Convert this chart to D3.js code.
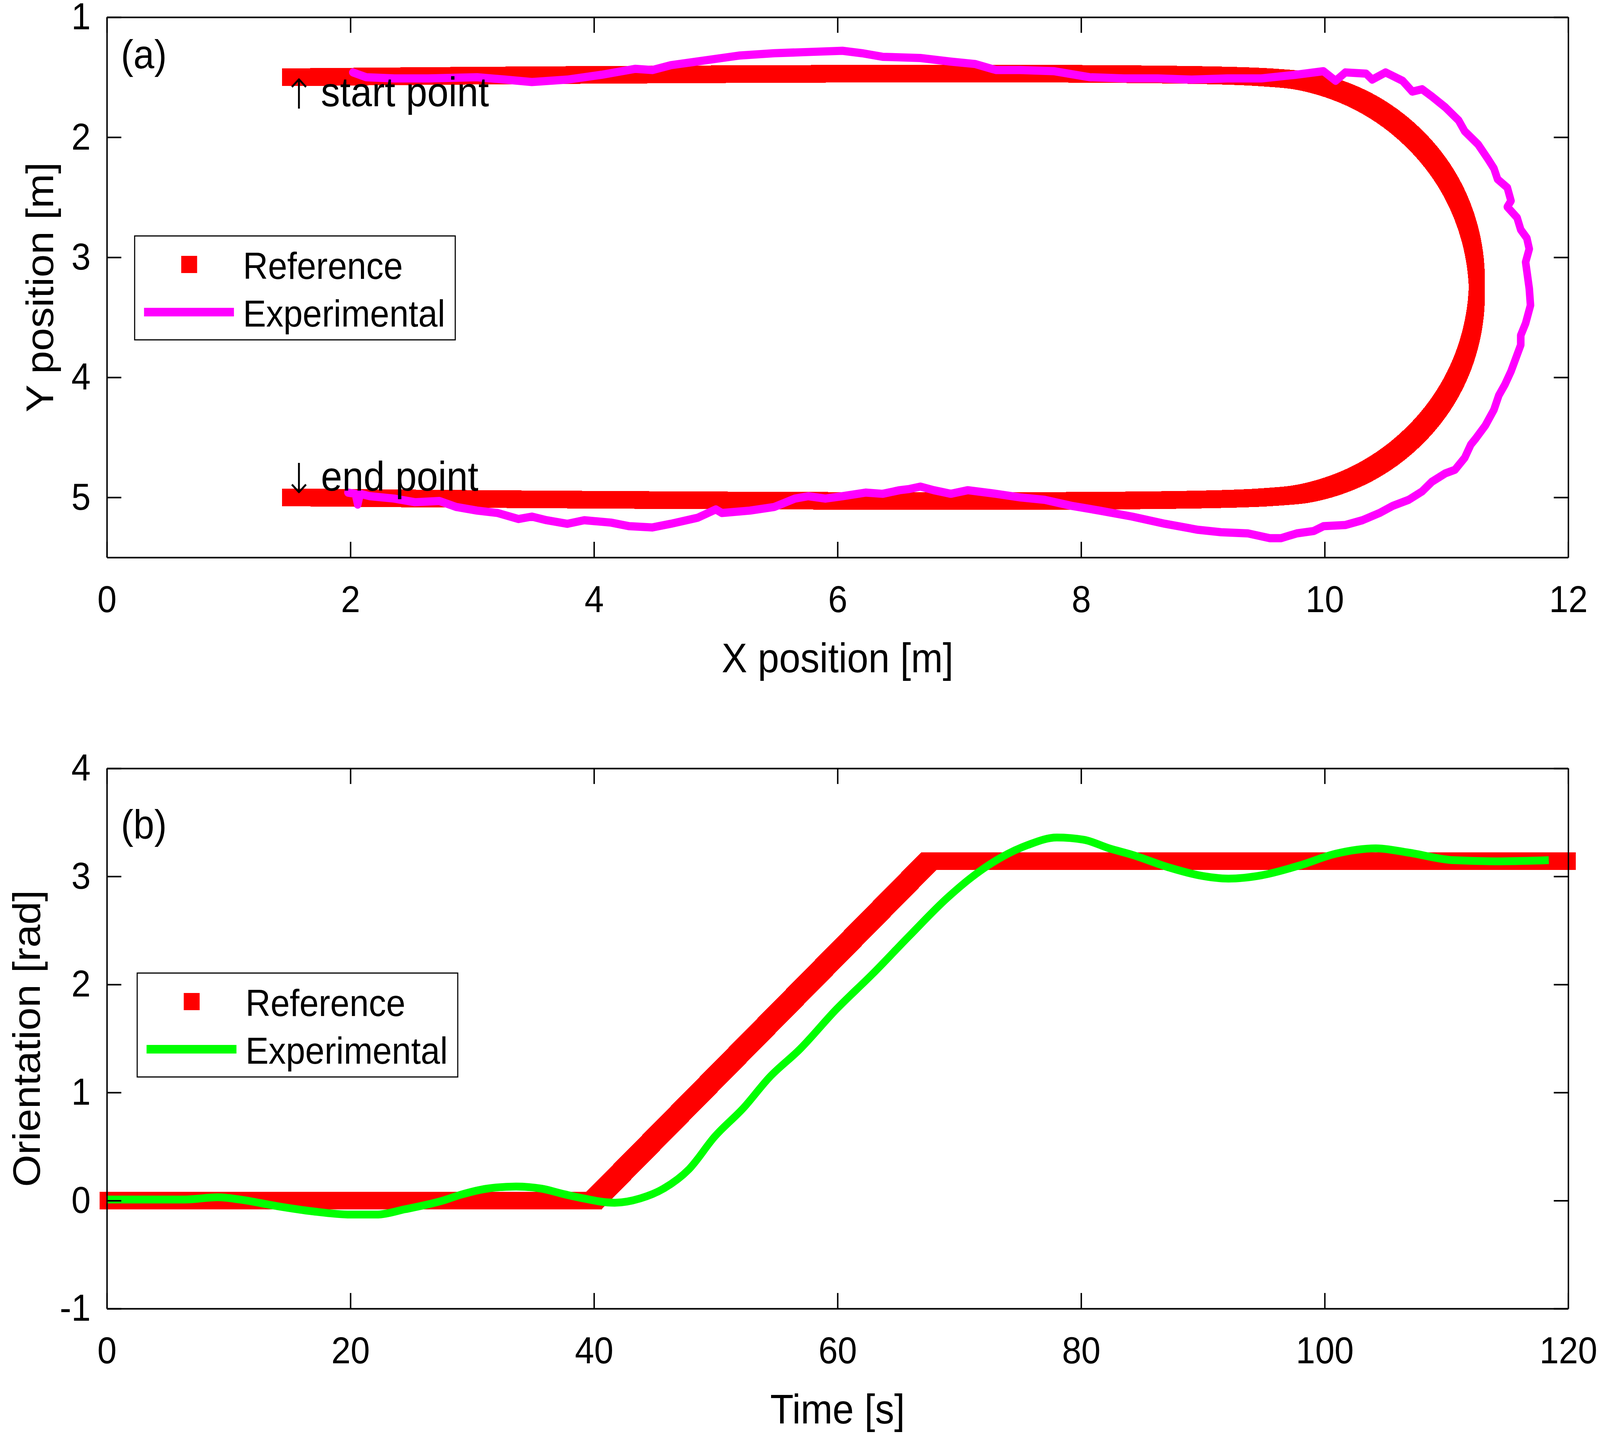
<!DOCTYPE html>
<html>
<head>
<meta charset="utf-8">
<script src="https://cdn.jsdelivr.net/npm/d3@7"></script>
<style>
html, body { margin: 0; padding: 0; background: #fff; overflow: hidden; }
svg { display: block; width: 100vw; height: 100vh; }
svg text { font-family: "Liberation Sans", Arial, Helvetica, sans-serif; fill: #000; }
</style>
</head>
<body>
<svg id="fig" viewBox="0 0 4432 3671" preserveAspectRatio="none"></svg>
<script>
// ---- (a) trajectory in the plane ----
var pathTicksX = [0, 2, 4, 6, 8, 10, 12];
var pathTicksY = [1, 2, 3, 4, 5];

// reference: straight run, half turn, straight run back
var refPathX = [1.5, 9.5, 9.953, 10.375, 10.737, 11.016, 11.19, 11.25, 11.19, 11.016, 10.737, 10.375, 9.953, 9.5, 1.5];
var refPathY = [1.5, 1.5, 1.56, 1.734, 2.013, 2.375, 2.797, 3.25, 3.703, 4.125, 4.487, 4.766, 4.94, 5.0, 5.0];

// measured robot path
var expPathX = [2.02, 2.13, 2.36, 2.64, 3.04, 3.27, 3.49, 3.78, 4.06, 4.34, 4.48, 4.63, 4.91, 5.19, 5.48, 5.76, 6.04, 6.20,
    6.37, 6.68, 6.93, 7.13, 7.30, 7.50, 7.78, 8.07, 8.35, 8.63, 8.91, 9.20, 9.48, 9.76, 9.99, 10.09, 10.17, 10.34, 10.39,
    10.50, 10.64, 10.72, 10.80, 10.88, 10.99, 11.10, 11.15, 11.26, 11.34, 11.39, 11.42, 11.50, 11.53, 11.50, 11.58, 11.61,
    11.66, 11.68, 11.65, 11.68, 11.69, 11.65, 11.61, 11.61, 11.57, 11.53, 11.48, 11.43, 11.39, 11.32, 11.24, 11.20, 11.15,
    11.07, 10.99, 10.88, 10.80, 10.69, 10.56, 10.45, 10.31, 10.17, 9.99, 9.91, 9.77, 9.64, 9.55, 9.37, 9.15, 8.96, 8.69,
    8.42, 8.15, 7.92, 7.70, 7.50, 7.30, 7.07, 6.93, 6.79, 6.68, 6.59, 6.51, 6.37, 6.23, 6.04, 5.90, 5.76, 5.65, 5.48, 5.28,
    5.05, 5.00, 4.85, 4.63, 4.48, 4.29, 4.14, 3.92, 3.78, 3.61, 3.49, 3.38, 3.21, 3.04, 2.87, 2.73, 2.53, 2.36, 2.16, 2.08,
    2.06, 2.04, 1.98];
var expPathY = [1.46, 1.50, 1.51, 1.51, 1.50, 1.52, 1.54, 1.52, 1.48, 1.43, 1.44, 1.40, 1.36, 1.32, 1.30, 1.29, 1.28, 1.30,
    1.33, 1.34, 1.37, 1.39, 1.44, 1.44, 1.45, 1.50, 1.51, 1.51, 1.52, 1.51, 1.51, 1.48, 1.45, 1.53, 1.46, 1.47, 1.52,
    1.46, 1.53, 1.62, 1.60, 1.66, 1.75, 1.86, 1.95, 2.06, 2.18, 2.26, 2.35, 2.42, 2.53, 2.58, 2.67, 2.77,
    2.84, 2.93, 3.04, 3.26, 3.40, 3.55, 3.65, 3.73, 3.84, 3.95, 4.06, 4.15, 4.27, 4.40, 4.51, 4.56, 4.67,
    4.77, 4.80, 4.87, 4.95, 5.02, 5.07, 5.13, 5.19, 5.23, 5.24, 5.28, 5.30, 5.34, 5.34, 5.30, 5.29, 5.27, 5.22,
    5.16, 5.11, 5.07, 5.02, 5.00, 4.97, 4.94, 4.97, 4.94, 4.91, 4.93, 4.94, 4.97, 4.96, 4.99, 5.01, 4.99, 5.01, 5.08, 5.11,
    5.13, 5.10, 5.17, 5.22, 5.25, 5.24, 5.21, 5.19, 5.22, 5.19, 5.16, 5.18, 5.13, 5.11, 5.08, 5.03, 5.04, 5.01, 4.99, 4.97,
    5.06, 4.97, 4.96];

// ---- (b) heading over time ----
var timeTicks = [0, 20, 40, 60, 80, 100, 120];
var angleTicks = [-1, 0, 1, 2, 3, 4];

var refTime = [0, 40, 67.5, 120];
var refAngle = [0, 0, 3.1416, 3.1416];

var expTime = [0, 3.3, 6.4, 9.1, 10.9, 13.9, 16.9, 20.0, 22.1, 24.5, 27.6, 29.1, 31.2, 33.6, 35.7, 37.5, 38.7, 41.7,
    43.8, 45.7, 47.8, 49.9, 52.3, 54.4, 56.9, 59.9, 62.9, 65.9, 69.0, 71.1, 73.5, 75.6, 78.0, 80.2, 82.3, 84.2, 87.3,
    89.7, 92.1, 94.8, 97.9, 100.9, 104.2, 106.9, 110.6, 114.5, 118.4];
var expAngle = [0.01, 0.01, 0.01, 0.03, 0.01, -0.05, -0.10, -0.13, -0.13, -0.08, 0.0, 0.055, 0.11, 0.13, 0.11, 0.06, 0.03, -0.02,
    0.02, 0.11, 0.29, 0.59, 0.86, 1.14, 1.40, 1.77, 2.10, 2.45, 2.80, 3.00, 3.18, 3.29, 3.36, 3.34, 3.26, 3.20, 3.08,
    3.01, 2.98, 3.01, 3.10, 3.21, 3.26, 3.22, 3.15, 3.14, 3.15];

var FONT = '"Liberation Sans", Arial, Helvetica, sans-serif';
var svg = d3.select('#fig');

svg.append('rect').attr('width', 4432).attr('height', 3671).attr('fill', '#fff');

// square markers swept along a thin line, like the thick reference band
svg.append('defs').append('filter')
    .attr('id', 'squareMarker')
    .attr('filterUnits', 'userSpaceOnUse')
    .attr('x', 0).attr('y', 0).attr('width', 4432).attr('height', 3671)
    .append('feMorphology')
    .attr('operator', 'dilate')
    .attr('radius', 21);

var frameA = {left: 296, right: 4344, top: 44, bottom: 1427};
var frameB = {left: 296, right: 4344, top: 1967, bottom: 3350};

function zip(xs, ys) {
    return xs.map(function(x, i) { return [x, ys[i]]; });
}

function drawAxes(f, xScale, yScale, xTicks, yTicks) {
    var g = svg.append('g');
    var parts = [
        g.append('g').attr('transform', 'translate(0,' + f.bottom + ')')
            .call(d3.axisBottom(xScale).tickValues(xTicks).tickSizeInner(-40).tickSizeOuter(0)
                .tickPadding(72).tickFormat(String)),
        g.append('g').attr('transform', 'translate(0,' + f.top + ')')
            .call(d3.axisTop(xScale).tickValues(xTicks).tickSizeInner(-40).tickSizeOuter(0).tickFormat('')),
        g.append('g').attr('transform', 'translate(' + f.left + ',0)')
            .call(d3.axisLeft(yScale).tickValues(yTicks).tickSizeInner(-40).tickSizeOuter(0)
                .tickPadding(45).tickFormat(String)),
        g.append('g').attr('transform', 'translate(' + f.right + ',0)')
            .call(d3.axisRight(yScale).tickValues(yTicks).tickSizeInner(-40).tickSizeOuter(0).tickFormat(''))
    ];
    parts.forEach(function(p) {
        p.attr('font-size', 96).attr('font-family', FONT);
    });
    g.selectAll('.domain, .tick line').attr('stroke', '#000').attr('stroke-width', 4);
    g.selectAll('.tick text').attr('fill', '#000');
}

function drawLegend(box, color, label1, label2) {
    var g = svg.append('g');
    g.append('rect')
        .attr('x', box.x).attr('y', box.y).attr('width', 888).attr('height', 266)
        .attr('fill', '#fff').attr('stroke', '#000').attr('stroke-width', 3);
    g.append('rect')
        .attr('x', box.x + 129).attr('y', box.y + 51).attr('width', 44).attr('height', 44)
        .attr('fill', '#ff0000');
    g.append('line')
        .attr('x1', box.x + 26).attr('x2', box.x + 275)
        .attr('y1', box.y + 195).attr('y2', box.y + 195)
        .attr('stroke', color).attr('stroke-width', 22);
    g.append('text').attr('x', box.x + 300).attr('y', box.y + 110).attr('font-size', 96).text(label1);
    g.append('text').attr('x', box.x + 300).attr('y', box.y + 232).attr('font-size', 96).text(label2);
}

// arrow glyph + label, the way the figure annotates the path ends
function note(arrow, label, y) {
    var t = svg.append('text').attr('y', y).attr('font-size', 106);
    t.append('tspan')
        .attr('x', 828).attr('text-anchor', 'middle')
        .attr('font-family', '"DejaVu Sans", sans-serif')
        .attr('font-weight', 200)
        .attr('dy', 6)
        .text(arrow);
    t.append('tspan')
        .attr('x', 889).attr('dy', -6).attr('text-anchor', 'start')
        .text(label);
}

// ---------- panel (a) ----------
var xA = d3.scaleLinear().domain([0, 12]).range([frameA.left, frameA.right]);
var yA = d3.scaleLinear().domain([1, 5.5]).range([frameA.top, frameA.bottom]);

var lineA = d3.line()
    .x(function(d) { return xA(d[0]); })
    .y(function(d) { return yA(d[1]); });

svg.append('g').attr('filter', 'url(#squareMarker)')
    .append('path')
    .datum(zip(refPathX, refPathY))
    .attr('d', lineA.curve(d3.curveCatmullRom.alpha(0.5)))
    .attr('fill', 'none')
    .attr('stroke', '#ff0000')
    .attr('stroke-width', 3)
    .attr('shape-rendering', 'crispEdges');

svg.append('path')
    .datum(zip(expPathX, expPathY))
    .attr('d', lineA.curve(d3.curveLinear))
    .attr('fill', 'none')
    .attr('stroke', '#ff00ff')
    .attr('stroke-width', 21)
    .attr('stroke-linejoin', 'round')
    .attr('stroke-linecap', 'round');

drawAxes(frameA, xA, yA, pathTicksX, pathTicksY);
drawLegend({x: 373, y: 604}, '#ff00ff', 'Reference', 'Experimental');

svg.append('text').attr('x', 335).attr('y', 175).attr('font-size', 104).text('(a)');
note('\u2191', 'start point', 272);
note('\u2193', 'end point', 1256);

svg.append('text')
    .attr('x', (frameA.left + frameA.right) / 2).attr('y', 1721)
    .attr('text-anchor', 'middle').attr('font-size', 106)
    .text('X position [m]');
svg.append('text')
    .attr('transform', 'translate(147,' + (frameA.top + frameA.bottom) / 2 + ') rotate(-90)')
    .attr('text-anchor', 'middle').attr('font-size', 106)
    .text('Y position [m]');

// ---------- panel (b) ----------
var xB = d3.scaleLinear().domain([0, 120]).range([frameB.left, frameB.right]);
var yB = d3.scaleLinear().domain([-1, 4]).range([frameB.bottom, frameB.top]);

var lineB = d3.line()
    .x(function(d) { return xB(d[0]); })
    .y(function(d) { return yB(d[1]); });

svg.append('g').attr('filter', 'url(#squareMarker)')
    .append('path')
    .datum(zip(refTime, refAngle))
    .attr('d', lineB)
    .attr('fill', 'none')
    .attr('stroke', '#ff0000')
    .attr('stroke-width', 3)
    .attr('shape-rendering', 'crispEdges');

svg.append('path')
    .datum(zip(expTime, expAngle))
    .attr('d', lineB.curve(d3.curveMonotoneX))
    .attr('fill', 'none')
    .attr('stroke', '#00ff00')
    .attr('stroke-width', 20)
    .attr('stroke-linejoin', 'round');

drawAxes(frameB, xB, yB, timeTicks, angleTicks);
drawLegend({x: 380, y: 2491}, '#00ff00', 'Reference', 'Experimental');

svg.append('text').attr('x', 335).attr('y', 2146).attr('font-size', 104).text('(b)');

svg.append('text')
    .attr('x', (frameB.left + frameB.right) / 2).attr('y', 3644)
    .attr('text-anchor', 'middle').attr('font-size', 106)
    .text('Time [s]');
svg.append('text')
    .attr('transform', 'translate(110,' + (frameB.top + frameB.bottom) / 2 + ') rotate(-90)')
    .attr('text-anchor', 'middle').attr('font-size', 106)
    .text('Orientation [rad]');
</script>
</body>
</html>
